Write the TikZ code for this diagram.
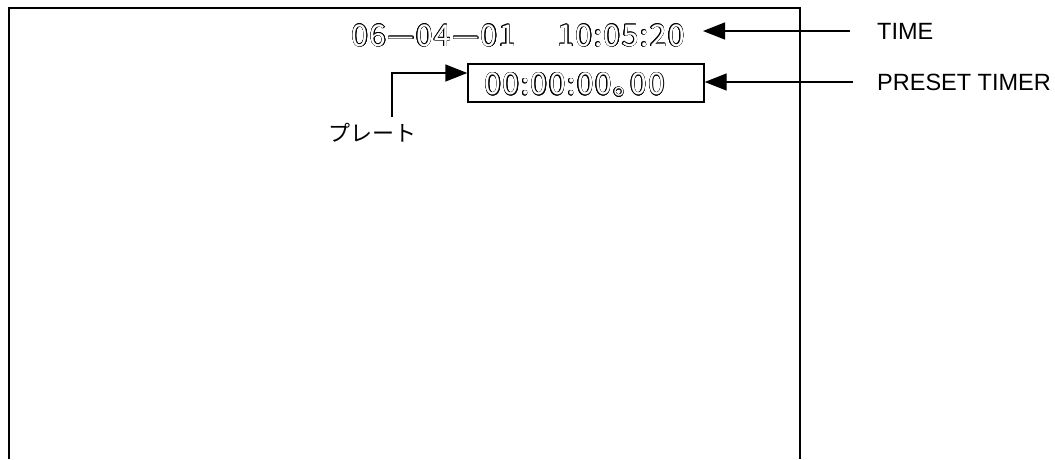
\documentclass[tikz,border=0pt]{standalone}
\usepackage{fontspec}
\setmainfont{Liberation Sans}
\newfontfamily\jpfont{Noto Sans CJK JP}
\newfontfamily\scrfont[LetterSpace=5]{Noto Sans CJK JP}
\usepackage{contour}
\contourlength{0.5pt}
\usetikzlibrary{arrows.meta}
\newcommand{\hollowtxt}[1]{{\color{white}\contour{black}{#1}}}
\begin{document}
\begin{tikzpicture}[x=1pt,y=-1pt,
  frame/.style={line width=2pt},
  thin/.style={line width=1.4pt},
  arr/.style={line width=1.4pt,-{Triangle[length=22pt,width=17pt]}},
  lbl/.style={inner sep=0pt,font=\fontsize{23.5}{23.5}\selectfont},
  screen/.style={inner sep=0pt,font=\scrfont\fontsize{30}{30}\selectfont},
  jplbl/.style={inner sep=0pt,font=\jpfont\fontsize{22}{22}\selectfont}]
\useasboundingbox (0,0) rectangle (1055,459);
\draw[frame] (9,459) -- (9,8) -- (800,8) -- (800,459);
\node[screen,anchor=east] (date) at (685,36) {\hollowtxt{06—04—01\hspace{42pt}10:05:20}};
\node[draw,thin,minimum width=236pt,minimum height=38pt,inner sep=0pt] (box) at (586,83) {};
\node[screen] (timer) at (575,85) {\hollowtxt{00:00:00。\kern-13pt 00}};
\node[jplbl] (plate) at (372,133) {プレート};
\node[lbl,anchor=west] (time) at (877,31) {TIME};
\node[lbl,anchor=west] (preset) at (877,82) {PRESET TIMER};
\coordinate (bend) at (392,73);
\draw[arr] (plate.north -| bend) ++(0,-6) -- (bend) -- (box.west |- bend);
\draw[arr] ([xshift=-27pt]time.west) -- ([xshift=18pt]date.east |- time.west);
\draw[arr] ([xshift=-24pt]preset.west) -- (box.east |- preset.west);
\end{tikzpicture}
\end{document}
